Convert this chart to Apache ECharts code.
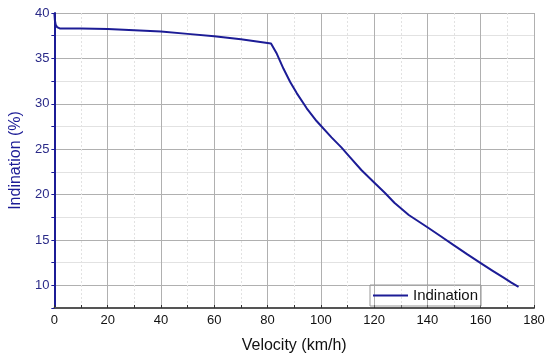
<!DOCTYPE html>
<html><head><meta charset="utf-8">
<script src="https://cdn.jsdelivr.net/npm/echarts@6/dist/echarts.min.js"></script>
<style>html,body{margin:0;padding:0;background:#fff}#c{width:550px;height:359px}</style>
</head><body><div id="c"></div>
<script>
const velocity = [0, 0.2, 0.5, 1, 2, 5, 10, 20, 30, 40, 50, 60, 70, 81.3, 83.5, 86, 88.5, 91, 94.7, 98.4, 104, 107.7, 111, 115.2, 120.1, 124, 127.6, 133, 140, 145, 150, 155, 160, 164.5, 168.6, 171.5, 174.2];
const inclination = [40, 39.2, 38.7, 38.45, 38.3, 38.3, 38.3, 38.25, 38.1, 37.95, 37.7, 37.45, 37.1, 36.65, 35.5, 33.85, 32.4, 31.15, 29.5, 28.1, 26.3, 25.2, 24.1, 22.7, 21.3, 20.2, 19.1, 17.75, 16.4, 15.4, 14.4, 13.4, 12.45, 11.6, 10.84, 10.3, 9.83];
const seriesName = 'Indination';
const xTitle = 'Velocity (km/h)';
const yTitle = 'Indination (%)';

const navy = '#1c1c96';
const chart = echarts.init(document.getElementById('c'));
chart.setOption({
  animation: false,
  textStyle: {fontFamily: 'Liberation Sans, Arial, sans-serif'},
  grid: {left: 51, right: 16, top: 13, bottom: 44},
  legend: {
    data: [seriesName], left: 370, top: 285,
    icon: 'rect', itemWidth: 35, itemHeight: 2,
    borderColor: '#999', borderWidth: 1, padding: [3, 3, 3, 3], itemGap: 5,
    textStyle: {fontSize: 15, color: '#111', fontFamily: 'Liberation Sans, Arial, sans-serif'}
  },
  xAxis: {
    type: 'value', min: 0, max: 180, interval: 20,
    name: xTitle, nameLocation: 'middle', nameGap: 30,
    nameTextStyle: {fontSize: 16, color: '#111'},
    axisLine: {show: true, onZero: false, lineStyle: {color: '#555', width: 2}},
    axisTick: {show: true, inside: true, length: 3, lineStyle: {color: '#333'}},
    minorTick: {show: true, splitNumber: 2, length: 3, lineStyle: {color: '#333'}},
    axisLabel: {fontSize: 13, color: '#111', margin: 6},
    splitLine: {show: true, lineStyle: {color: '#b0b0b0', width: 1}},
    minorSplitLine: {show: true, lineStyle: {color: '#e2e2e2', type: [2, 2], width: 1}}
  },
  yAxis: {
    type: 'value', min: 7.5, max: 40, interval: 2.5,
    name: yTitle, nameLocation: 'middle', nameGap: 30,
    nameTextStyle: {fontSize: 16, color: navy},
    axisLine: {show: true, onZero: false, lineStyle: {color: navy, width: 2}},
    axisTick: {show: true, length: 3, lineStyle: {color: navy}},
    axisLabel: {fontSize: 13, color: '#2a2a88', margin: 5,
      formatter: v => (Math.abs(v % 5) < 1e-9 ? String(v) : '')},
    splitLine: {show: true, lineStyle: {color: ['#e2e2e2', '#b0b0b0'], width: 1}}
  },
  series: [{
    name: seriesName, type: 'line', data: velocity.map((v, i) => [v, inclination[i]]),
    showSymbol: false, smooth: false, lineStyle: {color: navy, width: 2, join: 'round'}, itemStyle: {color: navy}
  }]
});
</script></body></html>
